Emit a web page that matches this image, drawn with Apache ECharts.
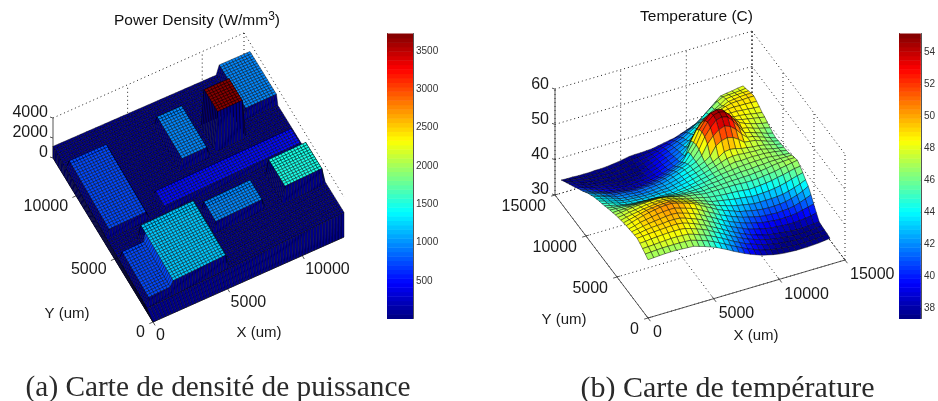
<!DOCTYPE html>
<html><head><meta charset="utf-8">
<style>html,body{margin:0;padding:0;background:#fff}#c{width:938px;height:401px}</style>
<script src="https://cdn.jsdelivr.net/npm/echarts@6/dist/echarts.min.js"></script>
</head><body><div id="c"></div>
<script>
// ---- data ----
const powerTicksX=[0,5000,10000], powerTicksY=[0,5000,10000], powerTicksZ=[0,2000,4000];
const tempTicksX=[0,5000,10000,15000], tempTicksY=[0,5000,10000,15000], tempTicksZ=[30,40,50,60];
const powerBarTicks=[500,1000,1500,2000,2500,3000,3500];
const tempBarTicks=[38,40,42,44,46,48,50,52,54];
const powerBackground=60;
// floorplan blocks in mesh indices of the 64x64 power map
const blockValue=[750,1230,750,500,950,950,1500,3720,950];
const blockCols=[[1,13],[9,26],[1,8],[19,63],[30,38],[29,44],[51,63],[42,50],[54,64]];
const blockRows=[[28,55],[1,23],[1,19],[28,34],[39,56],[14,22],[13,24],[40,49],[46,64]];
// temperature (C), rows along Y, columns along X
const temperature=[
[46.5,46.6,46.7,46.8,46.8,46.8,46.7,46.6,46.5,46.0,45.5,44.9,44.3,43.5,42.7,41.8,41.0,40.2,39.5,38.9,38.3,37.9,37.5,37.2,37.0,36.9,36.8,36.8,36.8,36.9,37.0,37.2,37.4],
[47.1,47.2,47.3,47.4,47.4,47.4,47.4,47.3,47.2,46.7,46.2,45.6,44.9,44.1,43.3,42.4,41.6,40.8,40.0,39.4,38.8,38.3,37.9,37.6,37.4,37.2,37.1,37.0,37.0,37.1,37.2,37.4,37.6],
[47.6,47.7,47.8,47.9,48.0,48.1,48.1,48.0,47.9,47.4,46.8,46.2,45.5,44.7,43.9,43.0,42.1,41.3,40.5,39.9,39.3,38.8,38.3,38.0,37.7,37.5,37.3,37.2,37.2,37.3,37.4,37.5,37.7],
[48.1,48.2,48.4,48.5,48.6,48.7,48.7,48.7,48.5,48.0,47.4,46.8,46.1,45.2,44.4,43.5,42.6,41.8,41.0,40.3,39.7,39.2,38.7,38.3,38.0,37.8,37.6,37.4,37.4,37.4,37.5,37.7,37.8],
[48.5,48.6,48.8,48.9,49.0,49.1,49.2,49.2,49.0,48.5,47.9,47.2,46.5,45.6,44.8,43.9,43.0,42.2,41.4,40.7,40.0,39.5,39.0,38.6,38.3,38.1,37.9,37.7,37.6,37.6,37.7,37.8,38.0],
[48.4,48.6,48.9,49.1,49.2,49.3,49.5,49.5,49.4,48.9,48.3,47.7,47.0,46.1,45.3,44.4,43.5,42.7,42.0,41.3,40.6,40.2,39.7,39.3,39.0,38.9,38.7,38.6,38.6,38.7,38.9,39.1,39.5],
[48.3,48.6,48.9,49.2,49.4,49.6,49.8,49.9,49.8,49.3,48.8,48.2,47.5,46.6,45.8,44.9,44.0,43.2,42.5,41.9,41.3,40.8,40.4,40.0,39.8,39.6,39.5,39.5,39.6,39.8,40.2,40.6,41.0],
[48.1,48.5,49.0,49.3,49.6,49.9,50.1,50.2,50.2,49.7,49.2,48.7,48.0,47.1,46.2,45.4,44.5,43.8,43.1,42.5,41.9,41.5,41.1,40.7,40.5,40.4,40.3,40.4,40.5,40.8,41.3,41.9,42.6],
[48.0,48.5,49.0,49.4,49.8,50.1,50.4,50.5,50.5,50.1,49.6,49.1,48.5,47.6,46.7,45.9,45.0,44.3,43.7,43.1,42.5,42.2,41.8,41.5,41.3,41.2,41.2,41.3,41.5,41.9,42.4,43.1,44.0],
[47.8,48.2,48.6,49.0,49.4,49.6,49.8,49.9,49.9,49.5,49.0,48.5,48.0,47.3,46.6,45.9,45.2,44.6,44.1,43.6,43.2,42.9,42.6,42.3,42.3,42.3,42.3,42.4,42.6,43.0,43.5,44.1,44.8],
[47.5,47.9,48.2,48.5,48.8,49.0,49.2,49.3,49.3,48.9,48.5,48.0,47.5,46.9,46.4,45.8,45.2,44.9,44.6,44.3,44.0,43.8,43.6,43.3,43.3,43.4,43.5,43.7,44.0,44.4,44.9,45.4,45.8],
[47.3,47.5,47.8,48.0,48.3,48.5,48.6,48.6,48.6,48.3,47.9,47.4,47.0,46.5,46.2,45.8,45.4,45.2,45.0,44.9,44.8,44.7,44.5,44.3,44.4,44.5,44.7,44.9,45.3,45.6,46.0,46.4,46.6],
[47.0,47.2,47.4,47.6,47.8,47.9,48.0,48.0,48.0,47.7,47.3,46.9,46.5,46.2,46.0,45.7,45.5,45.5,45.5,45.5,45.5,45.5,45.4,45.3,45.3,45.4,45.6,45.8,46.0,46.4,46.7,47.0,47.3],
[46.6,46.7,46.7,46.8,46.9,46.9,46.9,46.9,46.9,46.6,46.3,46.0,45.8,45.6,45.5,45.3,45.2,45.4,45.4,45.5,45.6,45.7,45.7,45.8,45.8,46.0,46.1,46.3,46.6,46.8,46.9,47.0,47.0],
[46.3,46.2,46.1,46.0,45.9,45.9,45.9,45.8,45.8,45.6,45.4,45.2,45.0,44.9,44.9,44.9,45.0,45.2,45.4,45.5,45.8,45.9,46.0,46.2,46.2,46.3,46.5,46.5,46.7,46.7,46.7,46.7,46.7],
[45.9,45.6,45.4,45.2,44.9,44.8,44.8,44.7,44.7,44.5,44.4,44.3,44.2,44.3,44.4,44.6,44.8,45.0,45.3,45.6,45.9,46.1,46.3,46.5,46.6,46.7,46.8,46.8,46.9,46.7,46.5,46.3,46.2],
[45.5,45.1,44.7,44.3,44.0,43.8,43.7,43.6,43.5,43.5,43.5,43.5,43.5,43.7,43.9,44.2,44.5,44.9,45.2,45.6,46.0,46.3,46.7,47.0,46.9,47.0,47.1,47.0,47.0,46.8,46.6,46.3,46.0],
[45.1,44.7,44.3,43.8,43.5,43.3,43.2,43.1,43.0,43.0,43.1,43.1,43.1,43.4,43.7,44.0,44.4,44.8,45.2,45.7,46.2,46.8,47.4,47.6,47.6,47.4,47.3,47.2,47.2,46.8,46.4,46.1,45.9],
[44.8,44.3,43.8,43.4,43.0,42.8,42.7,42.6,42.5,42.5,42.5,42.7,42.7,43.0,43.4,43.8,44.3,44.7,45.2,45.8,46.4,47.2,48.3,48.5,48.3,47.8,47.6,47.3,47.2,46.9,46.5,46.1,45.8],
[44.4,43.9,43.4,43.0,42.5,42.3,42.2,42.0,42.0,42.0,42.1,42.3,42.4,42.7,43.1,43.6,44.1,44.6,45.2,45.9,47.0,49.4,50.4,50.8,50.4,49.4,48.1,47.9,47.7,47.1,46.5,46.0,45.7],
[44.0,43.5,43.0,42.5,42.0,41.9,41.8,41.6,41.5,41.6,41.7,41.9,42.0,42.4,42.9,43.4,44.0,44.6,45.3,46.6,49.4,51.2,52.5,53.1,52.5,51.2,49.4,48.0,47.8,47.2,46.6,46.0,45.5],
[43.4,42.9,42.4,41.9,41.5,41.4,41.3,41.1,41.0,41.1,41.2,41.3,41.5,41.9,42.4,42.9,43.5,44.1,45.3,47.3,50.4,52.5,54.2,54.6,54.2,52.5,50.4,48.3,47.9,47.3,46.8,46.2,45.8],
[42.9,42.4,41.9,41.4,41.0,40.7,40.5,40.3,40.2,40.2,40.3,40.5,40.7,41.1,41.6,42.2,42.8,43.5,45.5,47.6,50.8,53.1,54.6,55.0,54.6,53.1,50.8,48.5,48.2,47.6,47.1,46.7,46.3],
[42.2,41.7,41.2,40.7,40.2,39.9,39.7,39.4,39.3,39.3,39.4,39.6,39.8,40.2,40.7,41.3,41.9,42.6,45.0,47.3,50.4,52.5,54.2,54.6,54.2,52.5,50.5,49.2,48.4,47.9,47.4,47.0,46.7],
[41.5,41.0,40.5,40.0,39.5,39.2,38.9,38.7,38.5,38.6,38.7,38.8,39.0,39.4,39.9,40.4,41.0,41.8,43.0,46.6,49.4,51.2,52.5,53.1,52.5,51.2,49.8,48.9,48.5,48.2,47.9,47.6,47.3],
[40.9,40.5,40.0,39.5,39.0,38.7,38.4,38.2,38.0,38.1,38.2,38.3,38.5,39.0,39.5,40.1,40.7,41.4,42.3,44.0,47.0,49.4,50.4,50.8,50.4,49.6,49.2,48.7,48.6,48.4,48.1,47.8,47.6],
[40.3,39.9,39.4,38.9,38.5,38.2,38.0,37.8,37.6,37.7,37.8,37.9,38.1,38.7,39.2,39.8,40.5,41.2,42.0,42.9,44.5,46.8,48.3,48.5,48.9,49.0,48.9,48.8,48.8,48.6,48.5,48.3,48.2],
[39.6,39.2,38.8,38.3,38.0,37.8,37.6,37.4,37.3,37.4,37.5,37.6,37.8,38.4,38.9,39.6,40.2,40.8,41.6,42.4,43.2,44.4,45.5,46.9,47.8,48.3,48.6,48.9,49.0,48.9,48.9,48.8,48.7],
[39.0,38.6,38.2,37.8,37.5,37.4,37.3,37.1,37.0,37.1,37.2,37.3,37.5,38.1,38.7,39.4,40.0,40.6,41.2,41.9,42.5,43.6,44.7,45.9,47.0,47.6,48.1,48.6,49.0,49.1,49.1,49.2,49.2],
[38.4,38.0,37.7,37.4,37.2,37.1,37.0,36.9,36.9,37.0,37.1,37.3,37.5,38.0,38.5,39.0,39.6,40.2,40.8,41.4,42.0,42.9,43.9,44.9,45.8,46.5,47.2,47.7,48.5,48.7,48.9,49.0,49.0],
[37.8,37.5,37.3,37.1,36.9,36.8,36.8,36.7,36.7,36.8,37.0,37.2,37.5,37.8,38.2,38.6,39.0,39.6,40.1,40.6,41.2,42.0,42.8,43.7,44.4,45.3,46.2,47.1,48.2,48.4,48.5,48.6,48.6],
[37.2,37.0,36.9,36.7,36.6,36.5,36.5,36.5,36.6,36.7,36.9,37.2,37.5,37.7,37.9,38.2,38.4,38.9,39.3,39.8,40.2,40.9,41.5,42.2,43.3,44.7,45.9,47.0,47.8,47.9,48.0,48.1,48.3],
[36.5,36.4,36.4,36.3,36.3,36.3,36.4,36.4,36.5,36.7,36.9,37.2,37.5,37.6,37.6,37.7,37.8,38.1,38.4,38.7,39.0,39.6,40.2,40.8,41.5,42.8,44.2,45.6,47.0,47.3,47.5,47.8,48.0]
];
// ---- view set-up ----
const FONT='"Liberation Sans",Arial,sans-serif';
const powerRange=[11,3728], tempRange=[37.34,55.2];
const surfaceXmax=13860, surfaceYmax=14025;
function jet(t){
  const n=Math.max(0,Math.min(63,Math.floor(t*64)));const s=(n+0.5)/64*4;
  const c=v=>Math.round(255*Math.max(0,Math.min(1,v)));
  return 'rgb('+c(Math.min(s-1.5,4.5-s))+','+c(Math.min(s-0.5,3.5-s))+','+c(Math.min(s+0.5,2.5-s))+')';
}
const powerColor=v=>jet((v-powerRange[0])/(powerRange[1]-powerRange[0]));
const tempColor=v=>jet((v-tempRange[0])/(tempRange[1]-tempRange[0]));
const projP=(X,Y,z)=>[153+191*X/12800-100*Y/13000, 322-85*X/12800-164*Y/13000-z*0.01];
const projT=(X,Y,T)=>[648+197*X/15000-93*Y/15000, 318-58*X/15000-123*Y/15000-(T-30)*3.53];
function plate(i,j,h){const u=i/64,v=j/64;
  const x=(1-u)*(1-v)*147+u*(1-v)*344+(1-u)*v*53+u*v*250;
  const y=(1-u)*(1-v)*309+u*(1-v)*213+(1-u)*v*147+u*v*61;
  return [x,y-h*0.01];}
const power=[];
for(let j=0;j<=64;j++){const r=[];for(let i=0;i<=64;i++){let p=powerBackground;
  blockValue.forEach((b,k)=>{if(i>=blockCols[k][0]&&i<=blockCols[k][1]&&j>=blockRows[k][0]&&j<=blockRows[k][1])p=b;});
  r.push(p);}power.push(r);}
const base={type:'custom',xAxisIndex:0,yAxisIndex:0,silent:true,animation:false,progressive:0,clip:false};
function polySeries(rows,fn){return Object.assign({},base,{data:rows.map((r,i)=>[i]),
  renderItem:(p,api)=>{const r=rows[p.dataIndex];const o=fn(r);
    return {type:'polygon',shape:{points:o.pts.map(q=>api.coord(q))},style:{fill:o.fill,stroke:o.stroke,lineWidth:o.lw}};}});}
function segSeries(segs,style){return Object.assign({},base,{data:segs.map((s,i)=>[i]),
  renderItem:(p,api)=>{const s=segs[p.dataIndex];const a=api.coord(s[0]),b=api.coord(s[1]);
    return {type:'line',shape:{x1:a[0],y1:a[1],x2:b[0],y2:b[1]},style:Object.assign({fill:null},style)};}});}
function textSeries(items){return Object.assign({},base,{data:items.map((s,i)=>[i]),
  renderItem:(p,api)=>{const s=items[p.dataIndex];const a=api.coord([s.x,s.y]);
    return {type:'text',x:a[0],y:a[1],style:{text:s.text,fill:'#1a1a1a',font:s.size+'px '+FONT,textAlign:s.align||'center',textVerticalAlign:'middle'}};}});}
const dotted={stroke:'#222',lineWidth:1,lineDash:[1,3]}, solid={stroke:'#444',lineWidth:0.9};
function frame(proj,tx,ty,tz,Xm,Ym,sparse){const d=[],s=[];const z0=tz[0],z1=tz[tz.length-1];
  (sparse?[z1]:tz).forEach(z=>{d.push([proj(0,Ym,z),proj(Xm,Ym,z)]);d.push([proj(Xm,Ym,z),proj(Xm,0,z)]);});
  tx.forEach(x=>{if(sparse&&x===0)return;d.push([proj(x,Ym,z0),proj(x,Ym,z1)]);if(!sparse)d.push([proj(x,0,z0),proj(x,Ym,z0)]);});
  if(!sparse)ty.forEach(y=>{d.push([proj(Xm,y,z0),proj(Xm,y,z1)]);d.push([proj(0,y,z0),proj(Xm,y,z0)]);});
  d.push([proj(Xm,Ym,z1),proj(Xm,Ym,z0)]);
  if(!sparse)d.push([proj(Xm,Ym,z0),proj(Xm,0,z0)]);
  s.push([proj(0,0,z0),proj(Xm,0,z0)],[proj(0,0,z0),proj(0,Ym,z0)],[proj(0,Ym,z0),proj(0,Ym,z1)]);
  const xu=proj(Xm,0,z0),yu=proj(0,Ym,z0),o=proj(0,0,z0);
  const ex=[(xu[0]-o[0])/Math.hypot(xu[0]-o[0],xu[1]-o[1]),(xu[1]-o[1])/Math.hypot(xu[0]-o[0],xu[1]-o[1])];
  const ey=[(yu[0]-o[0])/Math.hypot(yu[0]-o[0],yu[1]-o[1]),(yu[1]-o[1])/Math.hypot(yu[0]-o[0],yu[1]-o[1])];
  tx.forEach(x=>{const a=proj(x,0,z0);s.push([a,[a[0]-ey[0]*4,a[1]-ey[1]*4]]);s.push([a,[a[0]+ey[0]*3,a[1]+ey[1]*3]]);});
  ty.forEach(y=>{const a=proj(0,y,z0);s.push([a,[a[0]-ex[0]*4,a[1]-ex[1]*4]]);s.push([a,[a[0]+ex[0]*3,a[1]+ex[1]*3]]);});
  tz.forEach(z=>{const a=proj(0,Ym,z);s.push([a,[a[0]-3,a[1]-1]]);});
  return {d,s};}
// power surface
const pCells=[];for(let j=63;j>=0;j--)for(let i=63;i>=0;i--)pCells.push([i,j]);
const pStroke='rgba(0,0,0,0.72)';
const pSeries=polySeries(pCells,([i,j])=>({pts:[plate(i,j,power[j][i]),plate(i+1,j,power[j][i+1]),plate(i+1,j+1,power[j+1][i+1]),plate(i,j+1,power[j+1][i])],fill:powerColor(power[j][i]),stroke:pStroke,lw:0.6}));
const skirt=[];for(let k=63;k>=0;k--){skirt.push([k,0]);skirt.push([k,1]);}
const skirtSeries=polySeries(skirt,([k,s])=>{
  if(s===0)return {pts:[plate(k,0,power[0][k]),plate(k+1,0,power[0][k+1]),projP((k+1)/64*12800,0,0),projP(k/64*12800,0,0)],fill:powerColor(powerBackground),stroke:pStroke,lw:0.6};
  return {pts:[plate(0,k,power[k][0]),plate(0,k+1,power[k+1][0]),projP(0,(k+1)/64*13000,0),projP(0,k/64*13000,0)],fill:powerColor(powerBackground),stroke:pStroke,lw:0.6};});
// temperature surface
const tN=temperature.length-1,tM=temperature[0].length-1;
const tCells=[];for(let j=tN-1;j>=0;j--)for(let i=tM-1;i>=0;i--)tCells.push([i,j]);
const tv=(i,j)=>projT(i/tM*surfaceXmax,j/tN*surfaceYmax,temperature[j][i]);
const tSeries=polySeries(tCells,([i,j])=>({pts:[tv(i,j),tv(i+1,j),tv(i+1,j+1),tv(i,j+1)],
  fill:tempColor((temperature[j][i]+temperature[j][i+1]+temperature[j+1][i]+temperature[j+1][i+1])/4),stroke:'rgba(0,0,0,0.68)',lw:0.65}));
const fP=frame(projP,powerTicksX,powerTicksY,powerTicksZ,12800,13000,true);
const fT=frame(projT,tempTicksX,tempTicksY,tempTicksZ,15000,15000,false);
// labels
const lbl=[];const L=16;
powerTicksX.forEach(v=>{const a=projP(v,0,0);lbl.push({text:String(v),x:a[0]+3,y:a[1]+14,align:'left',size:L});});
powerTicksY.forEach(v=>{const a=projP(0,v,0);lbl.push({text:String(v),x:a[0]-8,y:a[1]+11,align:'right',size:L});});
powerTicksZ.forEach(v=>{const a=projP(0,13000,v);lbl.push({text:String(v),x:a[0]-5,y:a[1]-5,align:'right',size:L});});
tempTicksX.forEach(v=>{const a=projT(v,0,30);lbl.push({text:String(v),x:a[0]+5,y:a[1]+15,align:'left',size:L});});
tempTicksY.forEach(v=>{const a=projT(0,v,30);lbl.push({text:String(v),x:a[0]-9,y:a[1]+11.5,align:'right',size:L});});
tempTicksZ.forEach(v=>{const a=projT(0,15000,v);lbl.push({text:String(v),x:a[0]-6,y:a[1]-5,align:'right',size:L});});
lbl.push({text:'Y (um)',x:67,y:314,size:15},{text:'X (um)',x:259,y:333,size:15},{text:'Y (um)',x:564,y:320,size:15},{text:'X (um)',x:756,y:336,size:15});
// colour bars
function barSeries(range,colorFn,xi,yi){const rows=[];const n=64,st=(range[1]-range[0])/n;
  for(let k=0;k<n;k++)rows.push([range[0]+k*st,range[0]+(k+1)*st]);
  return {type:'custom',xAxisIndex:xi,yAxisIndex:yi,silent:true,animation:false,data:rows,encode:{y:[0,1]},
    renderItem:(p,api)=>{const lo=api.value(0),hi=api.value(1);const a=api.coord([0,hi]),b=api.coord([1,lo]);
      return {type:'rect',shape:{x:a[0],y:a[1],width:b[0]-a[0],height:b[1]-a[1]+0.5},style:{fill:colorFn((lo+hi)/2)}};}};}
function barAxis(range,ticks,grid,pos,show){return {type:'value',gridIndex:grid,position:pos,min:range[0],max:range[1],splitLine:{show:false},
  axisLine:{show:true,onZero:false,lineStyle:{color:'#555',width:1}},axisTick:{show:true,inside:true,length:2,customValues:ticks,lineStyle:{color:'#333'}},
  axisLabel:{show:show,customValues:ticks,formatter:v=>String(v),fontFamily:FONT,fontSize:10,color:'#333',margin:3}};}
const hiddenX=g=>({type:'value',gridIndex:g,min:0,max:1,show:false});
const serif='"Liberation Serif",serif';
const option={backgroundColor:'#fff',animation:false,
 title:[
  {text:'Power Density (W/mm{s|3})',left:192,top:6,textAlign:'center',textStyle:{fontFamily:FONT,fontWeight:'normal',fontSize:15.5,color:'#111',rich:{s:{fontFamily:FONT,fontSize:12,color:'#111',verticalAlign:'top',lineHeight:20}}}},
  {text:'Temperature (C)',left:691.5,top:4,textAlign:'center',textStyle:{fontFamily:FONT,fontWeight:'normal',fontSize:15.5,color:'#111'}},
  {text:'(a) Carte de densité de puissance',left:213,top:369,textAlign:'center',textStyle:{fontFamily:serif,fontWeight:'normal',fontSize:29.3,color:'#2a2a2a'}},
  {text:'(b) Carte de température',left:722.5,top:369,textAlign:'center',textStyle:{fontFamily:serif,fontWeight:'normal',fontSize:30,color:'#2a2a2a'}}
 ],
 grid:[{left:0,top:0,width:938,height:401},{left:387,top:33.5,width:26,height:285},{left:899,top:33.5,width:27,height:285}],
 xAxis:[{type:'value',gridIndex:0,min:0,max:938,show:false},hiddenX(1),hiddenX(2)],
 yAxis:[{type:'value',gridIndex:0,min:0,max:401,inverse:true,show:false},
  barAxis(powerRange,powerBarTicks,1,'right',true),barAxis(powerRange,powerBarTicks,1,'left',false),
  barAxis(tempRange,tempBarTicks,2,'right',true),barAxis(tempRange,tempBarTicks,2,'left',false)],
 series:[segSeries(fP.d,dotted),segSeries(fT.d,dotted),segSeries(fP.s,solid),segSeries(fT.s,solid),
  pSeries,skirtSeries,tSeries,textSeries(lbl),
  barSeries(powerRange,powerColor,1,1),barSeries(tempRange,tempColor,2,3)]
};
const chart=echarts.init(document.getElementById('c'),null,{renderer:'canvas'});
chart.setOption(option);
</script></body></html>
